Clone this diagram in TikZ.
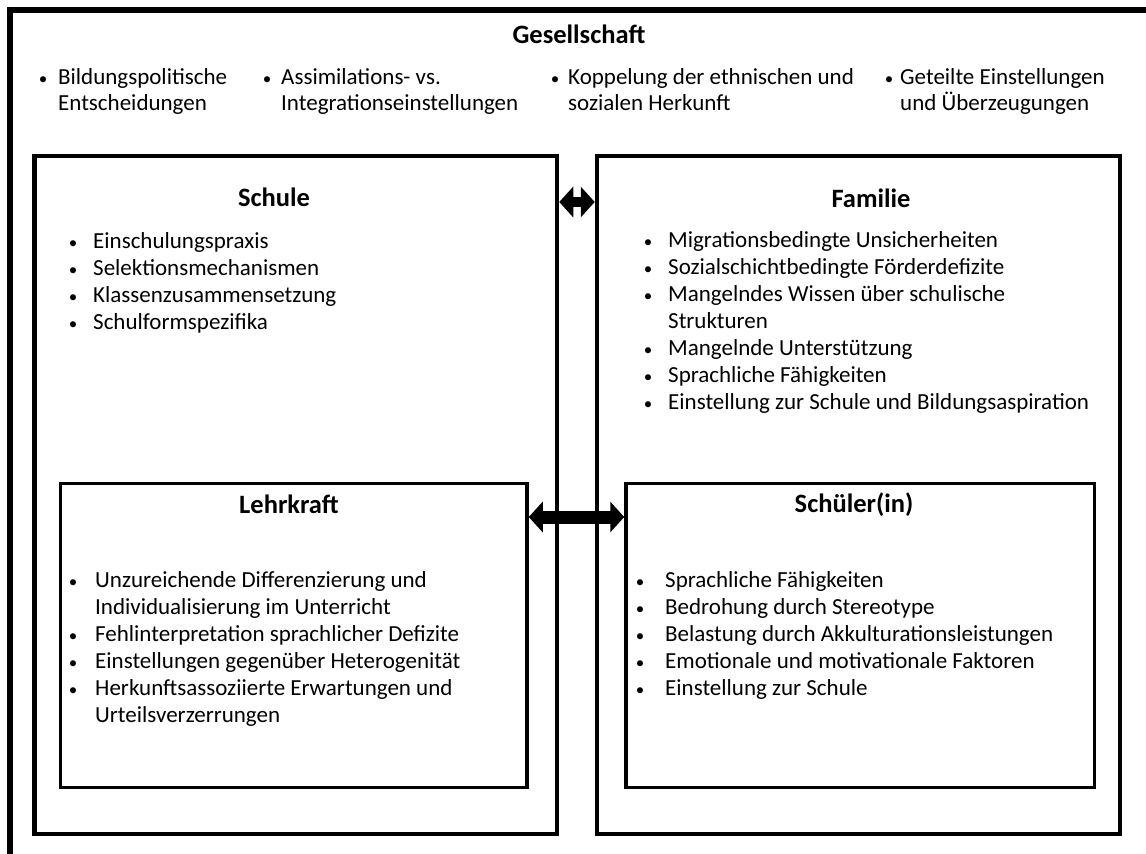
\documentclass[tikz,border=0pt]{standalone}
\usepackage{fontspec}
\setmainfont{Carlito}
\usetikzlibrary{arrows.meta}
\tikzset{
  frame/.style={draw, line width=6pt, rectangle, inner sep=0pt},
  bigbox/.style={draw, line width=4.5pt, rectangle, inner sep=0pt},
  smallbox/.style={draw, line width=3.5pt, rectangle, inner sep=0pt},
  txt/.style={anchor=base west, inner sep=0pt, font=\fontsize{23}{27}\selectfont},
  bul/.style={anchor=base, inner sep=0pt, font=\fontsize{17}{20}\selectfont},
  ttl/.style={anchor=base, inner sep=0pt, font=\fontsize{26.5}{30}\selectfont\bfseries},
  dblsmall/.style={line width=10pt, {Triangle[length=14pt,width=30pt]}-{Triangle[length=14pt,width=30pt]}},
  dblbig/.style={line width=13pt, {Triangle[length=14pt,width=30pt]}-{Triangle[length=14pt,width=30pt]}},
}
\newcommand\itm[5]{\node[bul] (#1b) at (#2,#4) {\textbullet}; \node[txt] (#1) at (#3,#4) {#5};}
\newcommand\cnt[4]{\node[txt] (#1) at (#2,#3) {#4};}
\begin{document}
\begin{tikzpicture}[x=1pt,y=-1pt]
\useasboundingbox (0,0) rectangle (1146,854);
\clip (0,0) rectangle (1146,854);
% outer frame
\node[frame, minimum width=1160pt, minimum height=846.5pt] (ges) at (590,433.25) {};
\node[ttl] (gest) at (579,43) {Gesellschaft};
\itm{g1}{43}{58}{84.5}{Bildungspolitische}
\cnt{g1c}{58}{110}{Entscheidungen}
\itm{g2}{267}{281}{84.5}{Assimilations- vs.}
\cnt{g2c}{281}{110}{Integrationseinstellungen}
\itm{g3}{555}{568}{84.5}{Koppelung der ethnischen und}
\cnt{g3c}{568}{110}{sozialen Herkunft}
\itm{g4}{889}{900}{84.5}{Geteilte Einstellungen}
\cnt{g4c}{900}{110}{und Überzeugungen}
% boxes
\node[bigbox, minimum width=522.5pt, minimum height=678pt] (schule) at (295.75,495) {};
\node[bigbox, minimum width=523pt, minimum height=678pt] (familie) at (858.5,495) {};
\node[smallbox, minimum width=466.5pt, minimum height=304pt] (lehr) at (293.75,635.5) {};
\node[smallbox, minimum width=468.5pt, minimum height=304pt] (schueler) at (860.25,635.5) {};
% Schule
\node[ttl] (schulet) at (274,206) {Schule};
\itm{s1}{73}{93}{248}{Einschulungspraxis}
\itm{s2}{73}{93}{275}{Selektionsmechanismen}
\itm{s3}{73}{93}{302}{Klassenzusammensetzung}
\itm{s4}{73}{93}{329}{Schulformspezifika}
% Familie
\node[ttl] (familiet) at (871,207) {Familie};
\itm{f1}{648}{668}{247}{Migrationsbedingte Unsicherheiten}
\itm{f2}{648}{668}{274}{Sozialschichtbedingte Förderdefizite}
\itm{f3}{648}{668}{301}{Mangelndes Wissen über schulische}
\cnt{f3c}{668}{328}{Strukturen}
\itm{f4}{648}{668}{355}{Mangelnde Unterstützung}
\itm{f5}{648}{668}{382}{Sprachliche Fähigkeiten}
\itm{f6}{648}{668}{409}{Einstellung zur Schule und Bildungsaspiration}
% Lehrkraft
\node[ttl] (lehrt) at (289,513) {Lehrkraft};
\itm{l1}{73}{95}{587}{Unzureichende Differenzierung und}
\cnt{l1c}{95}{614}{Individualisierung im Unterricht}
\itm{l2}{73}{95}{641}{Fehlinterpretation sprachlicher Defizite}
\itm{l3}{73}{95}{668}{Einstellungen gegenüber Heterogenität}
\itm{l4}{73}{95}{695}{Herkunftsassoziierte Erwartungen und}
\cnt{l4c}{95}{722}{Urteilsverzerrungen}
% Schueler
\node[ttl] (schuelert) at (854,512) {Schüler(in)};
\itm{k1}{640}{665}{587}{Sprachliche Fähigkeiten}
\itm{k2}{640}{665}{614}{Bedrohung durch Stereotype}
\itm{k3}{640}{665}{641}{Belastung durch Akkulturationsleistungen}
\itm{k4}{640}{665}{668}{Emotionale und motivationale Faktoren}
\itm{k5}{640}{665}{695}{Einstellung zur Schule}
% arrows
\coordinate (ya) at (0,202);
\coordinate (yb) at (0,517);
\draw[dblsmall] (schule.east |- ya) -- (familie.west |- ya);
\draw[dblbig] (lehr.east |- yb) -- (schueler.west |- yb);
\end{tikzpicture}
\end{document}
